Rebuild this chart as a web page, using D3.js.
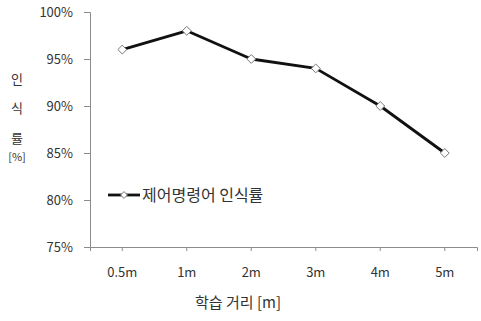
<!DOCTYPE html>
<html>
<head>
<meta charset="utf-8">
<script src="https://cdn.jsdelivr.net/npm/d3@7"></script>
<style>
  html, body { margin: 0; padding: 0; background: #fff; }
  svg text { font-family: "Noto Sans CJK KR", "Noto Sans", sans-serif; fill: #333; }
</style>
</head>
<body>
<svg id="chart" width="481" height="321"></svg>
<script>
// 학습 거리별 제어명령어 인식률
const distances = ["0.5m", "1m", "2m", "3m", "4m", "5m"];
const recognitionRate = [96, 98, 95, 94, 90, 85];
const yTicks = [75, 80, 85, 90, 95, 100];
const seriesName = "제어명령어 인식률";
const xTitle = "학습 거리 [m]";
const yTitleLines = ["인", "식", "률", "[%]"];

const svg = d3.select("#chart");
const plot = { left: 90, right: 477, top: 12, bottom: 247 };

const x = d3.scaleBand().domain(distances).range([plot.left, plot.right]);
const y = d3.scaleLinear().domain([75, 100]).range([plot.bottom, plot.top]);

// Y axis
const yAxis = svg.append("g").attr("transform", `translate(${plot.left},0)`)
  .call(d3.axisLeft(y).tickValues(yTicks).tickSize(6).tickPadding(11)
    .tickFormat(d => d + "%"));
yAxis.select(".domain").attr("stroke", "#8c8c8c");
yAxis.selectAll(".tick line").attr("stroke", "#8c8c8c");
yAxis.selectAll("text").attr("font-size", 13).style("fill", "#333");

// X axis
const xAxis = svg.append("g").attr("transform", `translate(0,${plot.bottom})`)
  .call(d3.axisBottom(x).tickSizeInner(4).tickSizeOuter(4).tickPadding(17));
xAxis.select(".domain").attr("stroke", "#8c8c8c");
xAxis.selectAll(".tick line").attr("stroke", "#8c8c8c");
xAxis.selectAll("text").attr("font-size", 13).style("fill", "#333");

const cx = d => x(d) + x.bandwidth() / 2;

// Series line
svg.append("path")
  .datum(recognitionRate)
  .attr("fill", "none")
  .attr("stroke", "#111")
  .attr("stroke-width", 2.8)
  .attr("stroke-linejoin", "round")
  .attr("d", d3.line().x((d, i) => cx(distances[i])).y(d => y(d)));

// Diamond markers
const diamond = d3.symbol().type(d3.symbolDiamond2).size(50);
svg.append("g").selectAll("path")
  .data(recognitionRate)
  .join("path")
  .attr("transform", (d, i) => `translate(${cx(distances[i])},${y(d)})`)
  .attr("d", diamond)
  .attr("fill", "#fff")
  .attr("stroke", "#777")
  .attr("stroke-width", 1);

// Legend
const lg = svg.append("g").attr("transform", "translate(108,195)");
lg.append("line").attr("x1", 0).attr("x2", 32).attr("y1", 0).attr("y2", 0)
  .attr("stroke", "#111").attr("stroke-width", 2.8);
lg.append("path").attr("transform", "translate(16,0)")
  .attr("d", d3.symbol().type(d3.symbolDiamond2).size(30))
  .attr("fill", "#fff").attr("stroke", "#777").attr("stroke-width", 1);
lg.append("text").attr("x", 34).attr("y", 0).attr("dy", "0.35em")
  .attr("font-size", 16).text(seriesName);

// Axis titles
svg.append("text").attr("x", 238).attr("y", 303).attr("dy", "0.35em")
  .attr("text-anchor", "middle").attr("font-size", 15).text(xTitle);

const yt = svg.append("g");
const yPos = [79, 108, 138, 157];
yTitleLines.forEach((t, i) => {
  yt.append("text").attr("x", 17).attr("y", yPos[i]).attr("dy", "0.35em")
    .attr("text-anchor", "middle").attr("font-size", i === 3 ? 11 : 13).text(t);
});
</script>
</body>
</html>
